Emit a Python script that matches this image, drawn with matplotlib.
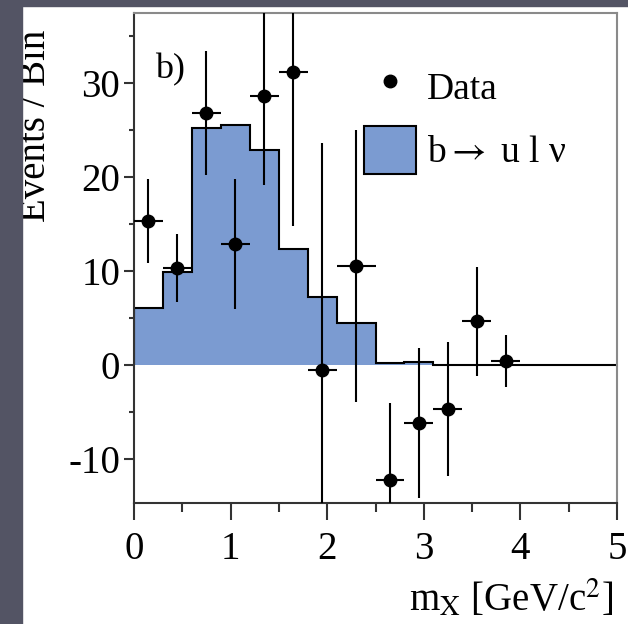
import numpy as np
import matplotlib.pyplot as plt
from matplotlib.lines import Line2D
from matplotlib.patches import Patch, Rectangle

plt.rcParams['font.family'] = ['Liberation Serif', 'DejaVu Serif']
plt.rcParams['mathtext.fontset'] = 'stix'
plt.rcParams['axes.unicode_minus'] = False

# signal MC histogram (bin edges in GeV/c^2, events per bin)
bin_edges = [0.0, 0.3, 0.6, 0.9, 1.2, 1.5, 1.8, 2.1, 2.5, 2.8, 3.1, 5.0]
mc_counts = [6.0, 9.9, 25.2, 25.5, 22.8, 12.3, 7.2, 4.4, 0.2, 0.25, 0.0]

# background-subtracted data
data_x = [0.15, 0.45, 0.75, 1.05, 1.35, 1.65, 1.95, 2.3, 2.65, 2.95, 3.25, 3.55, 3.85]
data_xerr = [0.15, 0.15, 0.15, 0.15, 0.15, 0.15, 0.15, 0.2, 0.15, 0.15, 0.15, 0.15, 0.15]
data_y = [15.3, 10.3, 26.8, 12.8, 28.6, 31.1, -0.6, 10.5, -12.3, -6.2, -4.7, 4.6, 0.4]
data_yerr = [4.5, 3.6, 6.6, 6.9, 9.5, 16.4, 24.2, 14.5, 8.2, 8.0, 7.1, 5.8, 2.8]

BLUE = '#7b9bd1'
FS = 28

fig = plt.figure(figsize=(6.28, 6.24), dpi=100, facecolor='white')
# slide background strips
fig.patches.append(Rectangle((0, 0), 22 / 628, 1, transform=fig.transFigure,
                             color='#535464', zorder=0))
fig.patches.append(Rectangle((0, 1 - 6 / 624), 1, 6 / 624, transform=fig.transFigure,
                             color='#535464', zorder=0))

ax = fig.add_axes([134 / 628, 121 / 624, 483 / 628, 490 / 624])

ax.stairs(mc_counts, bin_edges, fill=True, color=BLUE, lw=0, zorder=1)
ax.stairs(mc_counts, bin_edges, color='black', lw=1.5, zorder=2)

ax.errorbar(data_x, data_y, xerr=data_xerr, yerr=data_yerr, fmt='o', color='black',
            ms=9, elinewidth=1.5, capsize=0, zorder=3)

ax.set_xlim(0, 5)
ax.set_ylim(-14.7, 37.4)
ax.set_xticks(np.arange(0, 6, 1))
ax.set_xticks(np.arange(0.5, 5, 1), minor=True)
ax.set_yticks([-10, 0, 10, 20, 30])
ax.set_yticks([-5, 5, 15, 25, 35], minor=True)

ax.tick_params(axis='x', which='major', direction='out', length=12, width=1.5,
               labelsize=FS, pad=8, color='#333333')
ax.tick_params(axis='x', which='minor', direction='out', length=6.5, width=1.5,
               color='#333333')
ax.tick_params(axis='y', which='major', direction='out', length=7, width=1.5,
               labelsize=FS, pad=3, color='#333333')
ax.tick_params(axis='y', which='minor', direction='out', length=3.5, width=1.5,
               color='#333333')

for side in ['left', 'bottom']:
    ax.spines[side].set_color('#333333')
    ax.spines[side].set_linewidth(1.5)
for side in ['top', 'right']:
    ax.spines[side].set_color('#8a8a8a')
    ax.spines[side].set_linewidth(1.5)

# y label runs upward from just above the 20 tick, baseline on its right side
ax.set_ylabel('Events / Bin', fontsize=FS)
ax.yaxis.label.set_ha('left')
ax.yaxis.label.set_va('baseline')
ax.yaxis.set_label_coords(-0.184, 0.573)

ax.set_xlabel(r'm$_{\rm X}$ [GeV/c$^{2}$]', fontsize=FS, loc='right')
ax.xaxis.set_label_coords(0.992, -0.153)

ax.text(0.043, 0.884, 'b)', transform=ax.transAxes, fontsize=FS - 2,
        ha='left', va='center')

handles = [
    Line2D([], [], marker='o', ls='none', color='black', ms=9),
    Patch(facecolor=BLUE, edgecolor='black', lw=1.5),
]
ax.legend(handles, ['Data', r'b$\rightarrow$ u l ν'], loc='upper left',
          bbox_to_anchor=(0.476, 0.899), frameon=False, fontsize=FS - 1,
          handlelength=1.39, handleheight=1.59, handletextpad=0.29,
          labelspacing=0.42, borderpad=0, borderaxespad=0)

fig.savefig('out.png', dpi=100)
